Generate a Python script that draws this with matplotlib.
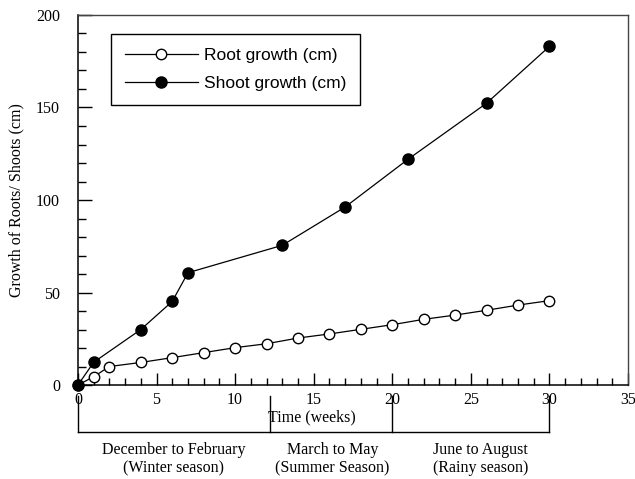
import numpy as np
from matplotlib import pyplot as plt
from matplotlib.ticker import MultipleLocator

# data
root_weeks = [0, 1, 2, 4, 6, 8, 10, 12, 14, 16, 18, 20, 22, 24, 26, 28, 30]
root_growth = [0, 4.5, 10, 12.2, 14.8, 17.5, 20.2, 22.3, 25.4, 27.6, 30.1, 32.6, 35.5, 37.8, 40.4, 43.2, 45.6]
shoot_weeks = [0, 1, 4, 6, 7, 13, 17, 21, 26, 30]
shoot_growth = [0, 12.3, 30, 45.2, 60.7, 75.5, 96.2, 122, 152.3, 183]

season_edges = [0, 12.2, 20, 30]
season_labels = ["December to February\n(Winter season)",
                 "March to May\n(Summer Season)",
                 "June to August\n(Rainy season)"]
season_centers = [6.1, 16.2, 25.6]

serif = ["Liberation Serif", "DejaVu Serif"]
sans = ["Liberation Sans", "DejaVu Sans"]

fig = plt.figure(figsize=(6.35, 4.79), dpi=100)
ax = fig.add_axes([0.1228, 0.1962, 0.8661, 0.7725])

ax.plot(root_weeks, root_growth, "-o", color="black", lw=0.9,
        mfc="white", mec="black", mew=1.0, ms=7.5, label="Root growth (cm)", clip_on=False, zorder=3)
ax.plot(shoot_weeks, shoot_growth, "-o", color="black", lw=0.9,
        mfc="black", mec="black", ms=8, label="Shoot growth (cm)", clip_on=False, zorder=4)

ax.set_xlim(0, 35)
ax.set_ylim(0, 200)
ax.xaxis.set_major_locator(MultipleLocator(5))
ax.xaxis.set_minor_locator(MultipleLocator(1))
ax.yaxis.set_major_locator(MultipleLocator(50))
ax.yaxis.set_minor_locator(MultipleLocator(10))
ax.tick_params(axis="both", which="both", direction="in", top=False, right=False, width=1.0)
ax.tick_params(axis="y", which="major", length=10, pad=13)
ax.tick_params(axis="y", which="minor", length=5.5)
ax.tick_params(axis="x", which="major", length=9, pad=5)
ax.tick_params(axis="x", which="minor", length=5)
for lab in ax.get_xticklabels() + ax.get_yticklabels():
    lab.set_fontfamily(serif)
    lab.set_fontsize(11.5)

for side in ["left", "bottom"]:
    ax.spines[side].set_linewidth(1.1)
for side in ["top", "right"]:
    ax.spines[side].set_linewidth(1.0)
    ax.spines[side].set_color("#444444")

ax.set_ylabel("Growth of Roots/ Shoots (cm)", fontfamily=serif, fontsize=11.5, labelpad=8)

# season brackets under the axis
tr = ax.get_xaxis_transform()
ax.plot([season_edges[0], season_edges[-1]], [-0.127, -0.127], color="black", lw=1.0,
        transform=tr, clip_on=False)
for e in season_edges:
    ax.plot([e, e], [-0.03, -0.127], color="black", lw=1.0, transform=tr, clip_on=False)
for c, t in zip(season_centers, season_labels):
    ax.text(c, -0.155, t, transform=tr, ha="center", va="top", fontfamily=serif,
            fontsize=11.5, linespacing=1.15)
ax.text(14.9, -0.088, "Time (weeks)", transform=tr, ha="center", va="center",
        fontfamily=serif, fontsize=11.5)

leg = ax.legend(loc="upper left", bbox_to_anchor=(0.06, 0.949), borderaxespad=0,
                prop={"family": sans, "size": 12.5}, handlelength=4.2, handletextpad=0.35,
                fancybox=False, framealpha=1, edgecolor="black", borderpad=0.8,
                labelspacing=0.75)
leg.get_frame().set_linewidth(1.0)

plt.savefig("out.png", dpi=100)
